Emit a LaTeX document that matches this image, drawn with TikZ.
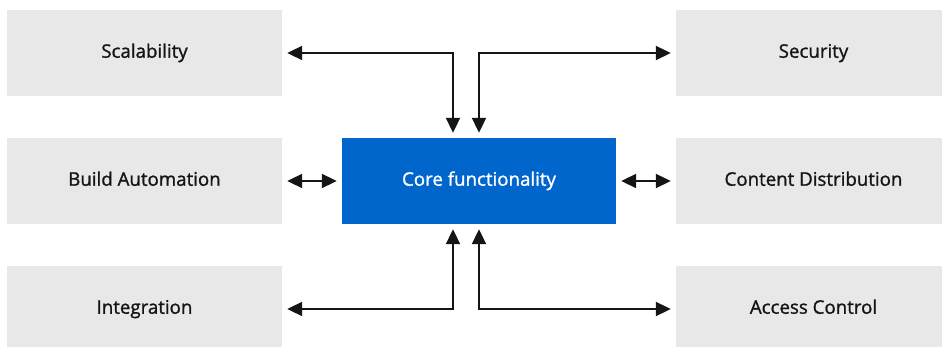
\documentclass[tikz,border=0pt]{standalone}
\usepackage{fontspec}
\setmainfont{Open Sans}[FakeBold=1.2]
\usetikzlibrary{arrows.meta}

\definecolor{boxgray}{HTML}{E8E8E8}
\definecolor{coreblue}{HTML}{0066CC}
\definecolor{ink}{HTML}{151515}

\tikzset{
  featurebox/.style={fill=boxgray, text=ink, minimum width=275pt, minimum height=86pt,
    inner sep=0pt, text height=0.95em, text depth=0pt, font=\fontsize{18.7}{22}\selectfont},
  corebox/.style={featurebox, fill=coreblue, text=white, minimum width=274pt},
  link/.style={{Triangle[length=15pt,width=14pt]}-{Triangle[length=15pt,width=14pt]},
    line width=2pt, draw=ink, shorten <=5pt, shorten >=5pt},
}

\begin{document}
\begin{tikzpicture}[x=1pt,y=-1pt]
    \useasboundingbox (0,0) rectangle (942,347);

    % feature boxes
    \node[featurebox] (scal)  at (144.5,53)  {Scalability};
    \node[featurebox] (build) at (144.5,181) {Build Automation};
    \node[featurebox] (integ) at (144.5,309) {Integration};
    \node[featurebox] (sec)   at (813.5,53)  {Security};
    \node[featurebox] (dist)  at (813.5,181) {Content Distribution};
    \node[featurebox] (acc)   at (813.5,309) {Access Control};

    \node[corebox] (core) at (479,181) {Core functionality};

    % links to the core
    \draw[link] (scal) -| ([xshift=-26pt]core.north);
    \draw[link] (sec) -| (core.north);
    \draw[link] (build) -- (core);
    \draw[link] (core) -- (dist);
    \draw[link] (integ) -| ([xshift=-26pt]core.south);
    \draw[link] (acc) -| (core.south);

\end{tikzpicture}
\end{document}
